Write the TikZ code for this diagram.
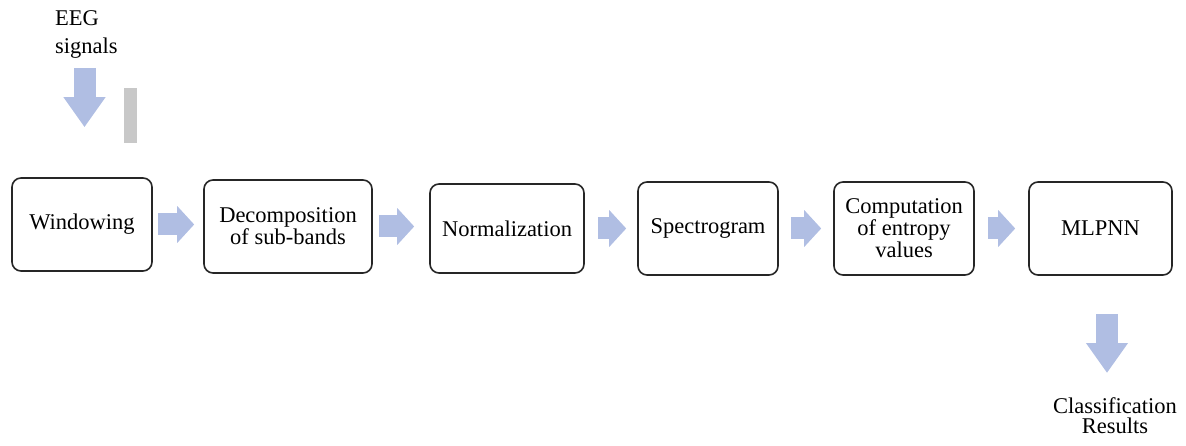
\documentclass[tikz,border=0pt]{standalone}
\usepackage{fontspec}
\setmainfont{Liberation Serif}
\usetikzlibrary{arrows.meta}
\definecolor{arrowblue}{HTML}{B0BEE3}
\definecolor{bargray}{HTML}{C8C8C8}
\begin{document}
\begin{tikzpicture}[x=1pt,y=-1pt,
  box/.style={draw=black!85, line width=1.6pt, rounded corners=9pt, minimum height=93pt,
    align=center, inner sep=0pt, font=\fontsize{22.5}{22}\selectfont},
  rarrow/.style={draw=arrowblue, line width=22pt, line cap=butt,
    -{Triangle[length=17pt,width=36pt]}},
  darrow/.style={draw=arrowblue, line width=22pt, line cap=butt,
    -{Triangle[length=30pt,width=40pt]}},
  lbl/.style={inner sep=0pt, font=\fontsize{22.5}{28}\selectfont}]
\useasboundingbox (0,0) rectangle (1186,446);

\node[lbl, align=left, anchor=north west] (eeg) at (55,10) {EEG\\signals};
\fill[bargray] (124,88) rectangle (137,143);

\node[box, minimum width=140pt] (b1) at (82,224.5) {Windowing};
\node[box, minimum width=168pt] (b2) at (288,226.5) {Decomposition\\of sub-bands};
\node[box, minimum width=154pt, minimum height=89pt] (b3) at (507,228.5) {Normalization};
\node[box, minimum width=140pt] (b4) at (708,228.5) {Spectrogram};
\node[box, minimum width=140pt] (b5) at (904,228.5) {Computation\\of entropy\\values};
\node[box, minimum width=143pt] (b6) at (1100.5,228.5) {MLPNN};

\node[lbl, font=\fontsize{22.5}{20.5}\selectfont, align=center, anchor=north] (res) at (1115,397) {Classification\\Results};

\coordinate (in) at (84.5,68);
\coordinate (out) at (1107,373);
\draw[darrow, shorten >=50pt] (in) -- (in |- b1.north);
\draw[darrow, shorten <=38pt] (out |- b6.south) -- (out);

\draw[rarrow, shorten <=5pt, shorten >=9pt] (b1.east) -- (b1.east -| b2.west);
\draw[rarrow, shorten <=6pt, shorten >=15pt] (b2.east) -- (b2.east -| b3.west);
\draw[rarrow, shorten <=13pt, shorten >=11pt] (b3.east) -- (b3.east -| b4.west);
\draw[rarrow, shorten <=12pt, shorten >=12pt] (b4.east) -- (b4.east -| b5.west);
\draw[rarrow, shorten <=13pt, shorten >=13pt] (b5.east) -- (b5.east -| b6.west);
\end{tikzpicture}
\end{document}
